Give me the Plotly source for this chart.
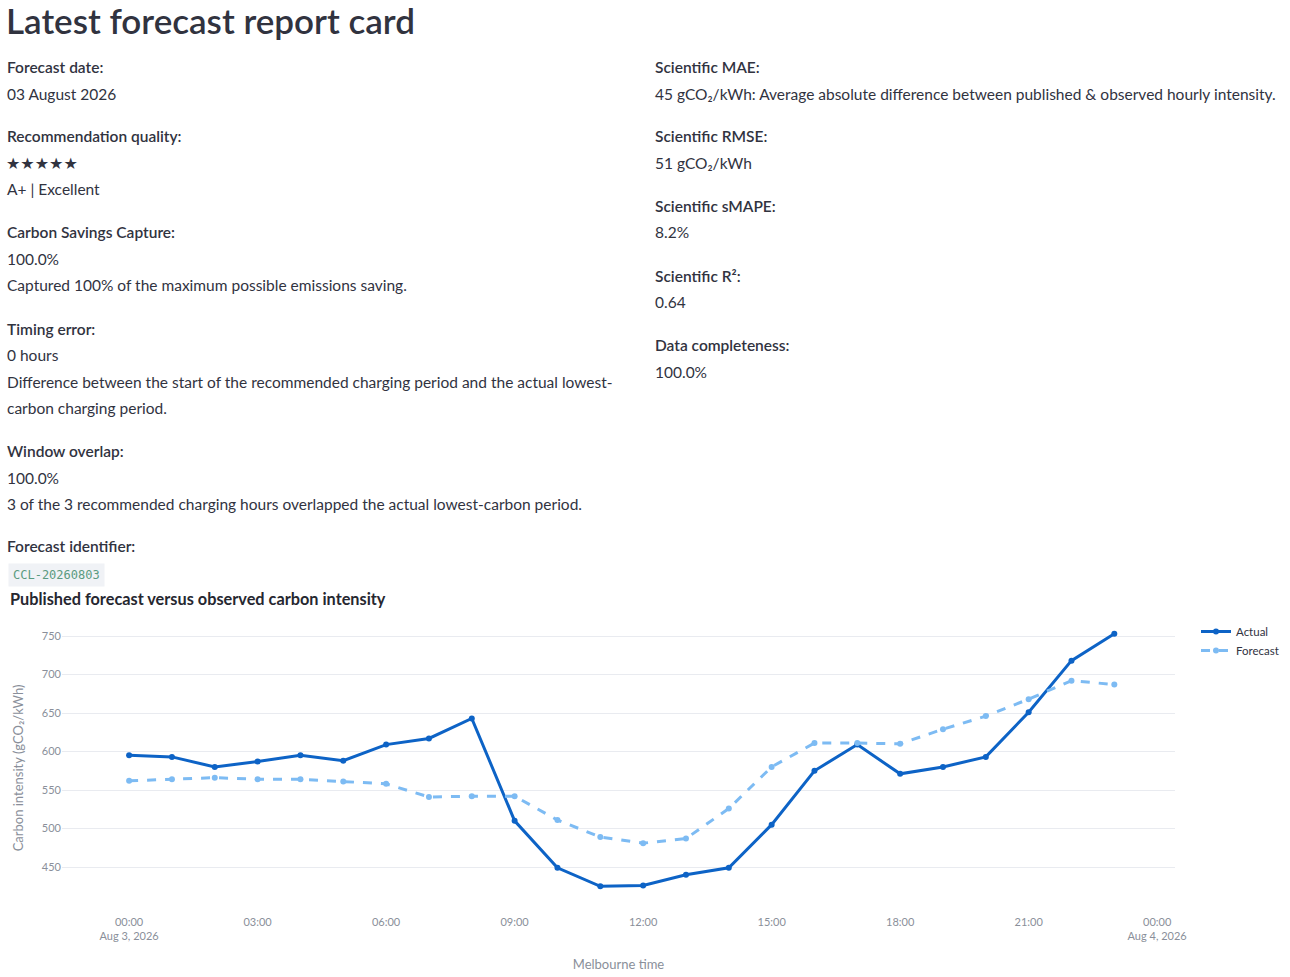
import plotly.graph_objects as go

W, H = 1290, 977

times = [
    "2026-08-03 00:00", "2026-08-03 01:00", "2026-08-03 02:00", "2026-08-03 03:00",
    "2026-08-03 04:00", "2026-08-03 05:00", "2026-08-03 06:00", "2026-08-03 07:00",
    "2026-08-03 08:00", "2026-08-03 09:00", "2026-08-03 10:00", "2026-08-03 11:00",
    "2026-08-03 12:00", "2026-08-03 13:00", "2026-08-03 14:00", "2026-08-03 15:00",
    "2026-08-03 16:00", "2026-08-03 17:00", "2026-08-03 18:00", "2026-08-03 19:00",
    "2026-08-03 20:00", "2026-08-03 21:00", "2026-08-03 22:00", "2026-08-03 23:00",
]
actual = [595, 593, 580, 587, 595, 588, 609, 617, 643, 510, 449, 425,
          426, 440, 449, 505, 575, 609, 571, 580, 593, 651, 718, 753]
forecast = [562, 564, 566, 564, 564, 561, 558, 541, 542, 542, 511, 489,
            481, 487, 526, 580, 611, 611, 610, 629, 646, 668, 692, 687]

y_ticks = [450, 500, 550, 600, 650, 700, 750]

left_items = [
    ("Forecast date:", True, 67), ("03 August 2026", False, 94),
    ("Recommendation quality:", True, 136), ("A+ | Excellent", False, 189),
    ("Carbon Savings Capture:", True, 232), ("100.0%", False, 259),
    ("Captured 100% of the maximum possible emissions saving.", False, 285),
    ("Timing error:", True, 329), ("0 hours", False, 355),
    ("Difference between the start of the recommended charging period and the actual lowest-", False, 382),
    ("carbon charging period.", False, 408),
    ("Window overlap:", True, 451), ("100.0%", False, 478),
    ("3 of the 3 recommended charging hours overlapped the actual lowest-carbon period.", False, 504),
    ("Forecast identifier:", True, 546),
]
right_items = [
    ("Scientific MAE:", True, 67),
    ("45 gCO₂/kWh: Average absolute difference between published &amp; observed hourly intensity.", False, 94),
    ("Scientific RMSE:", True, 136), ("51 gCO₂/kWh", False, 163),
    ("Scientific sMAPE:", True, 206), ("8.2%", False, 232),
    ("Scientific R²:", True, 276), ("0.64", False, 302),
    ("Data completeness:", True, 345), ("100.0%", False, 372),
]

FONT = "Lato"
TXT = "#31333f"
GRAY = "#8a8f9a"

def px(x):
    return x / W

def py(y):
    return 1 - y / H

fig = go.Figure()
fig.add_trace(go.Scatter(
    x=times, y=actual, name="Actual", mode="lines+markers",
    line=dict(color="#0d63c6", width=3), marker=dict(size=6, color="#0d63c6"),
))
fig.add_trace(go.Scatter(
    x=times, y=forecast, name="Forecast", mode="lines+markers",
    line=dict(color="#7dbbf3", width=3, dash="dash"), marker=dict(size=6, color="#7dbbf3"),
))

ann = []
ann.append(dict(x=px(4), y=py(20), text="Latest forecast report card", showarrow=False,
                xanchor="left", yanchor="middle", xref="paper", yref="paper",
                font=dict(family=FONT, size=35, color=TXT, weight=600)))
for items, x0 in ((left_items, 5), (right_items, 653)):
    for text, bold, yy in items:
        ann.append(dict(x=px(x0), y=py(yy), text=text, showarrow=False,
                        xanchor="left", yanchor="middle", xref="paper", yref="paper",
                        font=dict(family=FONT, size=15.5, color=TXT,
                                  weight=600 if bold else 400)))
ann.append(dict(x=px(4), y=py(163), text="★★★★★", showarrow=False,
                xanchor="left", yanchor="middle", xref="paper", yref="paper",
                font=dict(family="DejaVu Sans", size=16, color=TXT)))
ann.append(dict(x=px(8), y=py(575), text="CCL-20260803", showarrow=False,
                xanchor="left", yanchor="middle", xref="paper", yref="paper",
                bgcolor="#f0f2f6", borderpad=4,
                font=dict(family="DejaVu Sans Mono", size=12, color="#5a9a80")))

fig.update_layout(
    width=W, height=H,
    margin=dict(l=0, r=0, t=0, b=0, autoexpand=False),
    paper_bgcolor="white", plot_bgcolor="white",
    font=dict(family=FONT, color=TXT),
    title=dict(text="Published forecast versus observed carbon intensity",
               x=px(10), y=py(599), xanchor="left", yanchor="middle",
               xref="paper", yref="paper",
               font=dict(family=FONT, size=16.3, color="#262730", weight=700)),
    annotations=ann,
    showlegend=True,
    legend=dict(x=px(1196), y=py(617), xanchor="left", yanchor="top",
                font=dict(family=FONT, size=11.5, color=TXT), bgcolor="rgba(0,0,0,0)"),
    xaxis=dict(
        domain=[px(62), px(1175)],
        range=["2026-08-02 22:26", "2026-08-04 00:25"],
        tick0="2026-08-03 00:00", dtick=3 * 3600 * 1000,
        showgrid=False, zeroline=False, showline=False,
        tickfont=dict(family=FONT, size=11, color=GRAY),
        title=dict(text="Melbourne time", standoff=18,
                   font=dict(family=FONT, size=13, color=GRAY)),
    ),
    yaxis=dict(
        domain=[py(914), py(622)],
        range=[389.0, 768.2],
        tickvals=y_ticks,
        gridcolor="#e9ebf0", zeroline=False, showline=False,
        tickfont=dict(family=FONT, size=11, color=GRAY),
        title=dict(text="Carbon intensity (gCO₂/kWh)", font=dict(family=FONT, size=13, color=GRAY)),
    ),
)

fig.write_html("out.html", config={"displayModeBar": False},
               post_script="document.body.style.margin='0';")
